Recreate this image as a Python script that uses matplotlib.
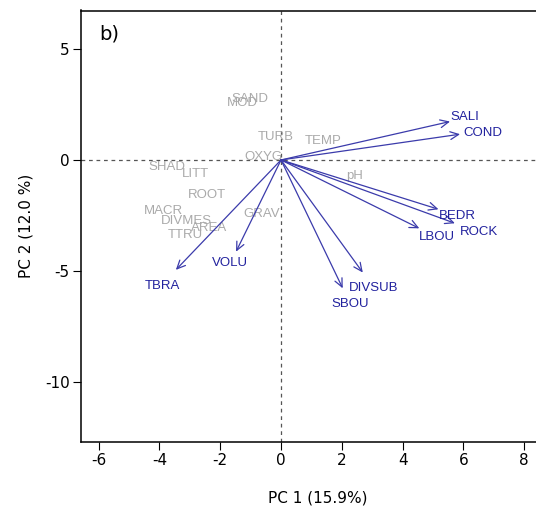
"""PCA biplot (panel b): environmental variables on PC1 / PC2."""
import matplotlib
matplotlib.use("Agg")
import matplotlib.pyplot as plt

plt.rcParams["axes.unicode_minus"] = False

# fitted variables drawn as arrows (tip coordinates) and where their labels sit
arrow_names = ["SALI", "COND", "BEDR", "ROCK", "LBOU", "DIVSUB", "SBOU", "VOLU", "TBRA"]
arrow_x = [5.56, 5.89, 5.18, 5.72, 4.55, 2.69, 2.03, -1.48, -3.46]
arrow_y = [1.73, 1.16, -2.22, -2.85, -3.08, -5.07, -5.78, -4.13, -4.95]
label_x = [6.05, 6.65, 5.81, 6.51, 5.12, 3.06, 2.29, -1.68, -3.89]
label_y = [1.92, 1.23, -2.51, -3.26, -3.45, -5.78, -6.49, -4.62, -5.68]

# non-significant variables, shown as grey labels only
grey_names = ["SAND", "MOD", "TURB", "TEMP", "OXYG", "SHAD", "LITT", "pH",
              "ROOT", "MACR", "GRAV", "DIVMES", "AREA", "TTRU"]
grey_x = [-1.02, -1.26, -0.16, 1.39, -0.58, -3.74, -2.83, 2.43,
          -2.44, -3.87, -0.64, -3.10, -2.36, -3.16]
grey_y = [2.73, 2.58, 1.02, 0.87, 0.12, -0.33, -0.63, -0.71,
          -1.58, -2.28, -2.43, -2.73, -3.08, -3.38]

x_ticks = [-6, -4, -2, 0, 2, 4, 6, 8]
y_ticks = [-10, -5, 0, 5]

BLUE = "#22229e"
ARROW = "#3b3bab"
GREY = "#aaaaaa"

W, H = 536, 511
fig = plt.figure(figsize=(W / 100, H / 100), dpi=100)
left_px, right_px, top_px, bottom_px = 80.7, 554.6, 10.5, 442.0
ax = fig.add_axes([left_px / W, (H - bottom_px) / H,
                   (right_px - left_px) / W, (bottom_px - top_px) / H])
ax.set_xlim(-6.59, 9.0)
ax.set_ylim(-12.7, 6.73)

ax.axhline(0, color="#555555", lw=0.9, ls=(0, (3, 3)), zorder=1)
ax.axvline(0, color="#555555", lw=0.9, ls=(0, (3, 3)), zorder=1)

for name, x, y in zip(grey_names, grey_x, grey_y):
    ax.text(x, y, name, color=GREY, fontsize=9.5, ha="center", va="center",
            family="Liberation Sans", zorder=2)

for x, y in zip(arrow_x, arrow_y):
    ax.annotate("", xy=(x, y), xytext=(0, 0),
                arrowprops=dict(arrowstyle="->,head_length=0.6,head_width=0.28",
                                color=ARROW, lw=0.9, shrinkA=0, shrinkB=0),
                zorder=3)

for name, x, y in zip(arrow_names, label_x, label_y):
    ax.text(x, y, name, color=BLUE, fontsize=9.5, ha="center", va="center",
            family="Liberation Sans", zorder=4)

ax.text(0.0386, 0.9455, "b)", transform=ax.transAxes, fontsize=14,
        ha="left", va="center", family="DejaVu Sans")

ax.set_xticks(x_ticks)
ax.set_yticks(y_ticks)
ax.tick_params(direction="out", length=6, width=0.8, labelsize=11, pad=2)
for lab in ax.get_xticklabels() + ax.get_yticklabels():
    lab.set_family("DejaVu Sans")
for s in ax.spines.values():
    s.set_linewidth(1.1)
ax.spines["right"].set_visible(False)

ax.set_xlabel("PC 1 (15.9%)", fontsize=11, labelpad=16)
ax.set_ylabel("PC 2 (12.0 %)", fontsize=11, labelpad=8)

fig.savefig("out.png", dpi=100)
